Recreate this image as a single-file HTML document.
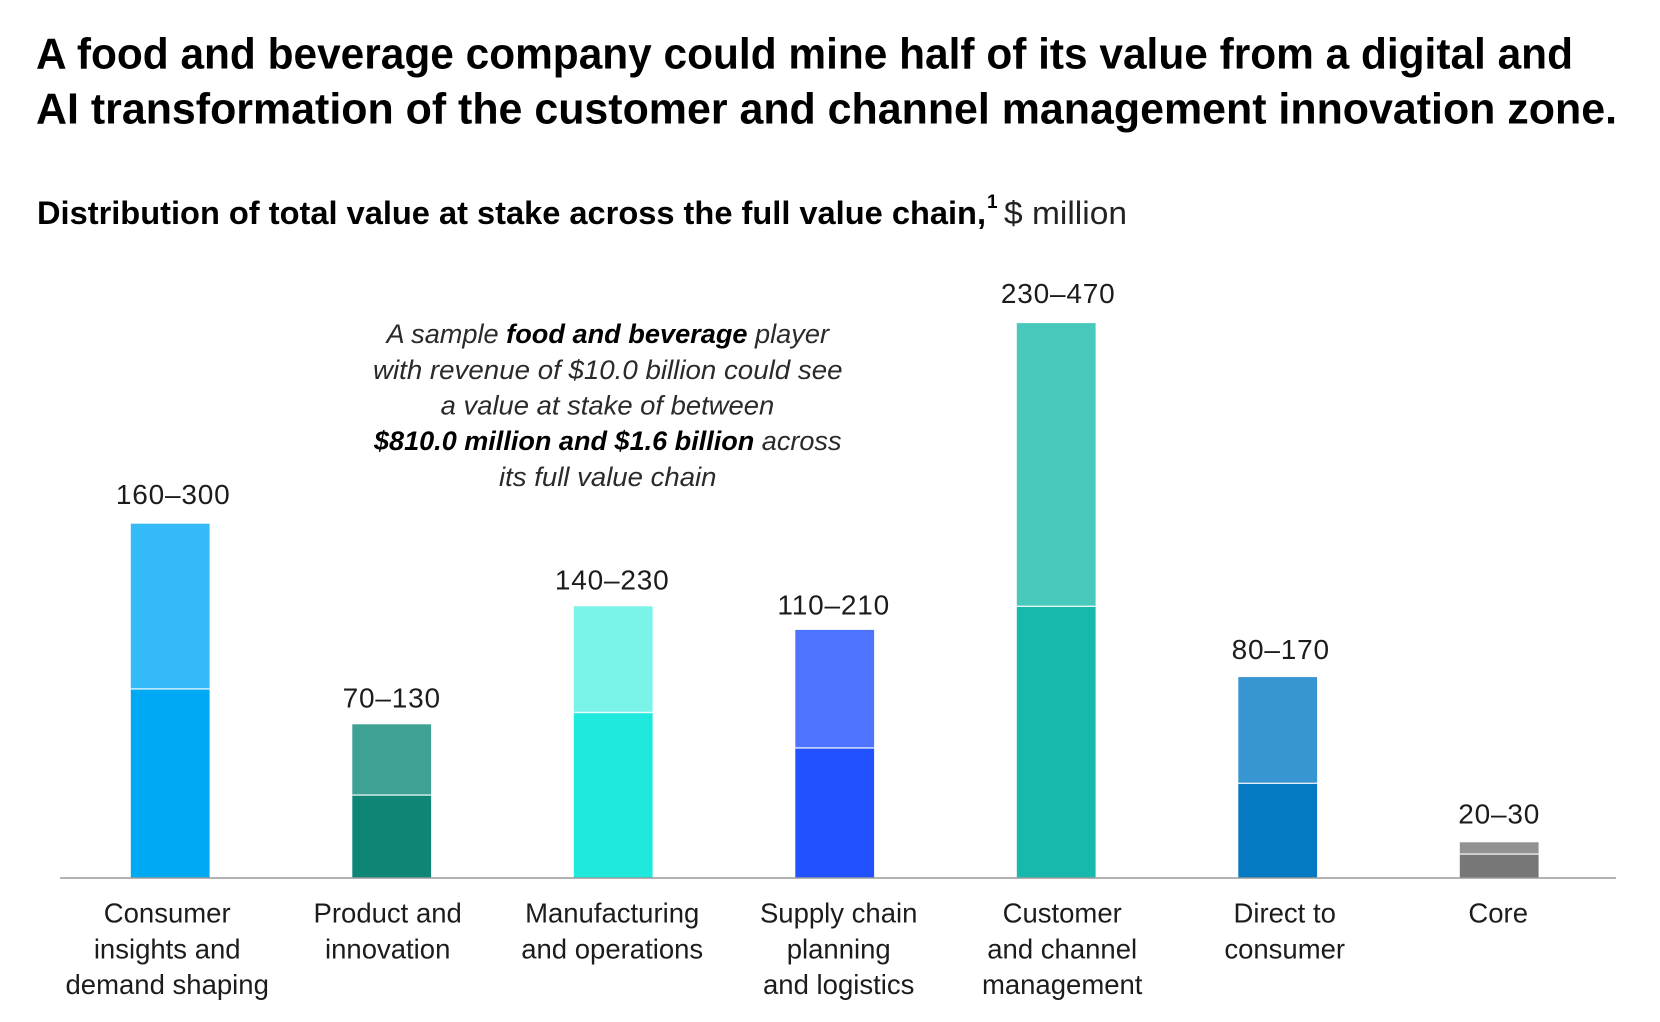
<!DOCTYPE html>
<html lang="en">
<head>
<meta charset="utf-8">
<title>Distribution of total value at stake</title>
<style>
  html, body { margin: 0; padding: 0; background: #fff; }
  svg { display: block; font-family: "Liberation Sans", sans-serif; }
  .val { font-size: 28px; fill: #1c1c1c; letter-spacing: 0.8px; text-anchor: middle; }
  .cat { font-size: 27.5px; fill: #1c1c1c; text-anchor: middle; }
  .note { font-size: 27px; font-style: italic; fill: #2a2a2a; }
  .note tspan { font-weight: bold; fill: #000; }
</style>
</head>
<body>
<svg id="chart" width="1660" height="1022" viewBox="0 0 1660 1022" xmlns="http://www.w3.org/2000/svg">
  <rect x="0" y="0" width="1660" height="1022" fill="#ffffff"/>
  <g>
    <text x="36" y="68.5" font-size="44" font-weight="bold" fill="#000" textLength="1537" lengthAdjust="spacingAndGlyphs">A food and beverage company could mine half of its value from a digital and</text>
    <text x="36" y="123.5" font-size="44" font-weight="bold" fill="#000" textLength="1581" lengthAdjust="spacingAndGlyphs">AI transformation of the customer and channel management innovation zone.</text>
  </g>
  <g>
    <text x="37" y="224" font-size="32" font-weight="bold" fill="#000" textLength="949" lengthAdjust="spacingAndGlyphs">Distribution of total value at stake across the full value chain,</text>
    <text x="987" y="208" font-size="19" font-weight="bold" fill="#000">1</text>
    <text x="1004" y="224" font-size="32" fill="#222" textLength="123" lengthAdjust="spacingAndGlyphs">$ million</text>
  </g>
  <g>
    <text class="note" x="386.5" y="343.2" textLength="442.5" lengthAdjust="spacingAndGlyphs">A sample <tspan>food and beverage</tspan> player</text>
    <text class="note" x="373" y="378.9" textLength="469.5" lengthAdjust="spacingAndGlyphs">with revenue of $10.0 billion could see</text>
    <text class="note" x="440.7" y="414.5" textLength="333.5" lengthAdjust="spacingAndGlyphs">a value at stake of between</text>
    <text class="note" x="374" y="450.2" textLength="467.5" lengthAdjust="spacingAndGlyphs"><tspan>$810.0 million and $1.6 billion</tspan> across</text>
    <text class="note" x="499" y="485.9" textLength="217.5" lengthAdjust="spacingAndGlyphs">its full value chain</text>
  </g>
  <g id="bars"></g>
  <line x1="60" x2="1616" y1="878" y2="878" stroke="#9a9a9a" stroke-width="1.5"/>
  <g id="value-labels"></g>
  <g id="category-labels"></g>
</svg>
<script>
const categories = [
  ["Consumer", "insights and", "demand shaping"],
  ["Product and", "innovation"],
  ["Manufacturing", "and operations"],
  ["Supply chain", "planning", "and logistics"],
  ["Customer", "and channel", "management"],
  ["Direct to", "consumer"],
  ["Core"]
];
const lowValues = [160, 70, 140, 110, 230, 80, 20];
const highValues = [300, 130, 230, 210, 470, 170, 30];
const lowColors = ["#00A9F4", "#0F8577", "#1FE9DD", "#2251FF", "#17B9AC", "#0679C3", "#777777"];
const highColors = ["#33BAF7", "#3FA094", "#7AF3E9", "#4E74FF", "#49C8BC", "#3795D1", "#929292"];

const NS = "http://www.w3.org/2000/svg";
const baseY = 877.7;
const pxPerUnit = 1.18;
const firstBarX = 130.8;
const barPitch = 221.5;
const barWidth = 78.8;
const lineHeight = 35.6;
const catBaseline = 922.7;
// Hand placement of the printed labels relative to their bars.
const valueDx = [3, 0, -1, -1, 2, 3, 0];
const valueGap = [19.7, 17, 16.7, 15.6, 20, 18, 18.7];
const catDx = [-3, -4, -1, 4, 6, 7, -1];

function xScale(i) { return firstBarX + i * barPitch; }
function yScale(v) { return baseY - v * pxPerUnit; }
function slug(i) { return categories[i].join("-").toLowerCase().replace(/\s+/g, "-"); }

const barsGroup = document.getElementById("bars");
const valuesGroup = document.getElementById("value-labels");
const catsGroup = document.getElementById("category-labels");

categories.forEach(function (lines, i) {
  const x = xScale(i);
  const cx = x + barWidth / 2;
  const yLow = yScale(lowValues[i]);
  const yHigh = yScale(highValues[i]);

  const low = document.createElementNS(NS, "rect");
  low.setAttribute("x", x);
  low.setAttribute("y", yLow);
  low.setAttribute("width", barWidth);
  low.setAttribute("height", baseY - yLow);
  low.setAttribute("fill", lowColors[i]);
  
  
  barsGroup.appendChild(low);

  const high = document.createElementNS(NS, "rect");
  high.setAttribute("x", x);
  high.setAttribute("y", yHigh);
  high.setAttribute("width", barWidth);
  high.setAttribute("height", yLow - yHigh);
  high.setAttribute("fill", highColors[i]);
  
  
  barsGroup.appendChild(high);

  const divider = document.createElementNS(NS, "line");
  divider.setAttribute("x1", x);
  divider.setAttribute("x2", x + barWidth);
  divider.setAttribute("y1", yLow);
  divider.setAttribute("y2", yLow);
  divider.setAttribute("stroke", "#ffffff");
  divider.setAttribute("stroke-opacity", "0.85");
  divider.setAttribute("stroke-width", "1.4");
  
  
  barsGroup.appendChild(divider);

  const val = document.createElementNS(NS, "text");
  val.setAttribute("class", "val");
  val.setAttribute("x", cx + valueDx[i]);
  val.setAttribute("y", yHigh - valueGap[i]);
  val.textContent = lowValues[i] + "\u2013" + highValues[i];
  
  
  valuesGroup.appendChild(val);

  lines.forEach(function (line, j) {
    const cat = document.createElementNS(NS, "text");
    cat.setAttribute("class", "cat");
    cat.setAttribute("x", cx + catDx[i]);
    cat.setAttribute("y", catBaseline + j * lineHeight);
    cat.textContent = line;
    
    
    catsGroup.appendChild(cat);
  });
});
</script>
</body>
</html>
